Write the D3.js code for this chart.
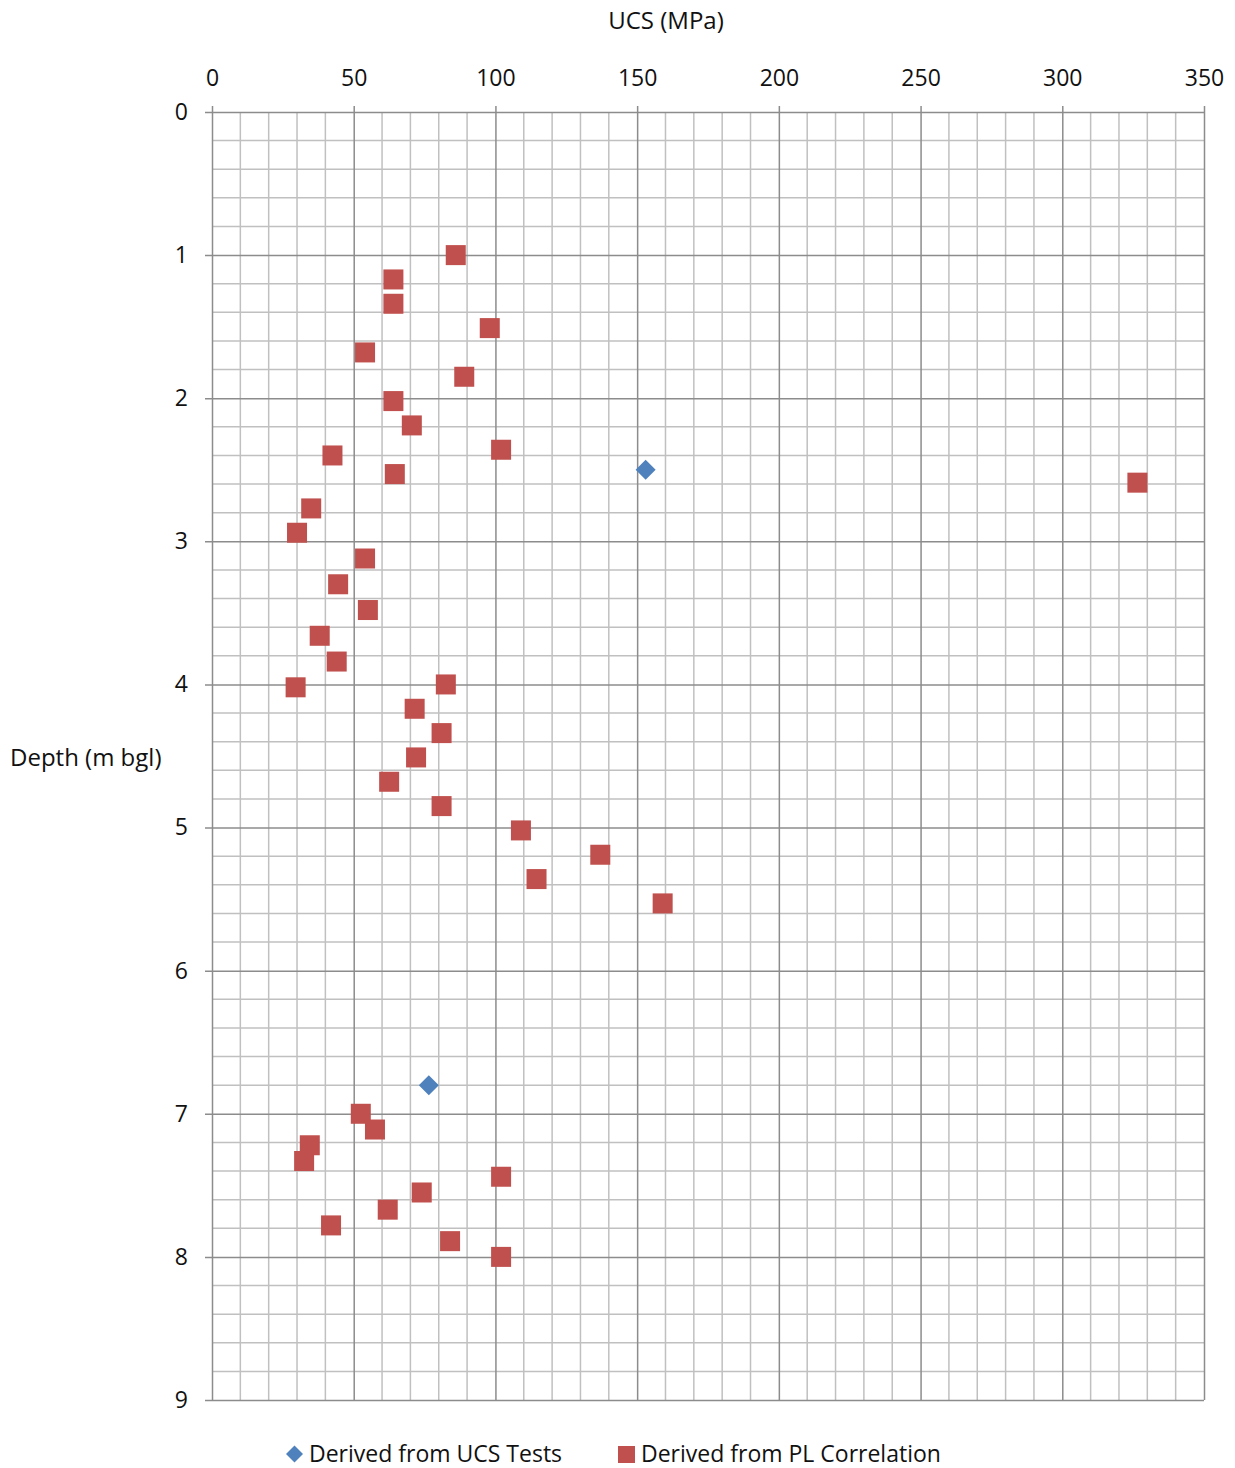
<!DOCTYPE html>
<html>
<head>
<meta charset="utf-8">
<script src="https://cdn.jsdelivr.net/npm/d3@7"></script>
<style>
  body { margin: 0; background: #fff; }
  text { font-family: "Open Sans", "Noto Sans", sans-serif; fill: #111; }
</style>
</head>
<body>
<div id="wrapper"></div>
<script>
const ucsTests = [153, 76.5];
const ucsTestDepths = [2.5, 6.8];

const plUcs = [86, 64, 64, 98, 54, 89, 64, 70.5, 102, 42.5, 64.5, 326.5, 35, 30, 54, 44.5, 55,
    38, 44, 29.5, 82.5, 71.5, 81, 72, 62.5, 81, 109, 137, 114.5, 159,
    52.5, 57.5, 34.5, 32.5, 102, 74, 62, 42, 84, 102];
const plDepths = [1.0, 1.17, 1.34, 1.51, 1.68, 1.85, 2.02, 2.19, 2.36, 2.4, 2.53, 2.59, 2.77, 2.94, 3.12, 3.3, 3.48,
    3.66, 3.84, 4.02, 4.0, 4.17, 4.34, 4.51, 4.68, 4.85, 5.02, 5.19, 5.36, 5.53,
    7.0, 7.11, 7.22, 7.33, 7.44, 7.55, 7.67, 7.78, 7.89, 8.0];

const xTicks = [0, 50, 100, 150, 200, 250, 300, 350];
const yTicks = [0, 1, 2, 3, 4, 5, 6, 7, 8, 9];

const MAJOR = "#8c8c8c";
const MINOR = "#c0c0c0";
const SQUARE_COLOR = "#c0504d";
const DIAMOND_COLOR = "#4f81bd";

const width = 1235, height = 1468;
const margin = {top: 112, left: 212, right: 31, bottom: 68};
const boundedWidth = width - margin.left - margin.right;
const boundedHeight = height - margin.top - margin.bottom;

const svg = d3.select("#wrapper").append("svg")
    .attr("width", width).attr("height", height);

const bounds = svg.append("g")
    .attr("transform", `translate(${margin.left},${margin.top})`);

const xScale = d3.scaleLinear().domain([0, 350]).range([0, boundedWidth]);
const yScale = d3.scaleLinear().domain([0, 9]).range([0, boundedHeight]);

// minor grid
bounds.append("g").selectAll("line")
    .data(d3.range(0, 351, 10).filter(v => v % 50 !== 0))
    .join("line")
    .attr("x1", d => xScale(d)).attr("x2", d => xScale(d))
    .attr("y1", 0).attr("y2", boundedHeight)
    .attr("stroke", MINOR).attr("stroke-width", 1.5);
bounds.append("g").selectAll("line")
    .data(d3.range(0, 45).map(i => i / 5).filter((v, i) => i % 5 !== 0))
    .join("line")
    .attr("y1", d => yScale(d)).attr("y2", d => yScale(d))
    .attr("x1", 0).attr("x2", boundedWidth)
    .attr("stroke", MINOR).attr("stroke-width", 1.5);

// major grid + ticks
const xAxis = d3.axisTop(xScale).tickValues(xTicks)
    .tickSize(6).tickPadding(20);
const xg = bounds.append("g").call(xAxis);
xg.select(".domain").remove();
xg.selectAll(".tick line").attr("stroke", MAJOR).attr("stroke-width", 1.5)
    .attr("y1", -6).attr("y2", boundedHeight);
xg.selectAll(".tick text").attr("font-size", 23);

const yAxis = d3.axisLeft(yScale).tickValues(yTicks)
    .tickSize(7).tickPadding(17);
const yg = bounds.append("g").call(yAxis);
yg.select(".domain").remove();
yg.selectAll(".tick line").attr("stroke", MAJOR).attr("stroke-width", 1.5)
    .attr("x1", -7).attr("x2", boundedWidth);
yg.selectAll(".tick text").attr("font-size", 23);

// markers
bounds.append("g").selectAll("rect")
    .data(plUcs)
    .join("rect")
    .attr("x", d => xScale(d) - 10)
    .attr("y", (d, i) => yScale(plDepths[i]) - 10)
    .attr("width", 20).attr("height", 20)
    .attr("fill", SQUARE_COLOR);

const diamond = d3.symbol().type(d3.symbolSquare).size(200);
bounds.append("g").selectAll("path")
    .data(ucsTests)
    .join("path")
    .attr("transform", (d, i) => `translate(${xScale(d)},${yScale(ucsTestDepths[i])}) rotate(45)`)
    .attr("d", diamond)
    .attr("fill", DIAMOND_COLOR);

// titles
svg.append("text").attr("x", 666).attr("y", 29)
    .attr("text-anchor", "middle").attr("font-size", 24).text("UCS (MPa)");
svg.append("text").attr("x", 10).attr("y", 766)
    .attr("font-size", 24).text("Depth (m bgl)");

// legend
const legend = svg.append("g").attr("transform", "translate(0,1453)");
legend.append("path")
    .attr("transform", "translate(294.5,1) rotate(45)")
    .attr("d", d3.symbol().type(d3.symbolSquare).size(145))
    .attr("fill", DIAMOND_COLOR);
legend.append("text").attr("x", 309).attr("y", 9).attr("font-size", 23)
    .text("Derived from UCS Tests");
legend.append("rect").attr("x", 618).attr("y", -7).attr("width", 17).attr("height", 17)
    .attr("fill", SQUARE_COLOR);
legend.append("text").attr("x", 641).attr("y", 9).attr("font-size", 23)
    .text("Derived from PL Correlation");
</script>
</body>
</html>
